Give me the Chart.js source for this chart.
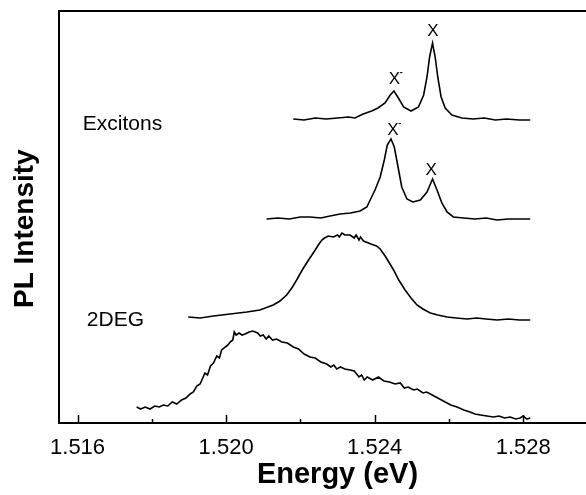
<!DOCTYPE html>
<html>
<head>
<meta charset="utf-8">
<script src="https://cdn.jsdelivr.net/npm/chart.js@4/dist/chart.umd.min.js"></script>
<style>
    html, body { margin: 0; padding: 0; background: #fff; overflow: hidden; }
    #plChart { display: block; }
</style>
</head>
<body>
<canvas id="plChart" width="640" height="495"></canvas>
<script>
// Energy (eV) and PL intensity (arb. units), top trace first
const excitonsTopE = [1.52181, 1.52210, 1.52240, 1.52270, 1.52300, 1.52330, 1.52347, 1.52369, 1.52392, 1.52409,
    1.52428, 1.52442, 1.52452, 1.52464, 1.52478, 1.52498, 1.52518, 1.52532, 1.52541, 1.52548,
    1.52556, 1.52563, 1.52570, 1.52579, 1.52590, 1.52608, 1.52635, 1.52665, 1.52695, 1.52725,
    1.52755, 1.52790, 1.52819];
const excitonsTopI = [304, 303, 305, 304, 305, 306, 305, 309, 312, 315,
    320, 328, 332, 325, 316, 312, 316, 328, 346, 366,
    380, 366, 346, 326, 315, 308, 305, 304, 305, 303,
    304, 303, 303];

const excitonsLowE = [1.52109, 1.52140, 1.52170, 1.52200, 1.52226, 1.52255, 1.52280, 1.52307, 1.52335, 1.52361,
    1.52379, 1.52388, 1.52401, 1.52415, 1.52426, 1.52434, 1.52444, 1.52453, 1.52461, 1.52473,
    1.52487, 1.52503, 1.52523, 1.52541, 1.52556, 1.52568, 1.52581, 1.52595, 1.52612, 1.52640,
    1.52670, 1.52700, 1.52730, 1.52760, 1.52790, 1.52819];
const excitonsLowI = [204, 205, 204, 206, 206, 205, 207, 209, 210, 212,
    216, 223, 233, 246, 263, 278, 284, 276, 260, 236,
    224, 221, 223, 231, 244, 233, 220, 211, 206, 205,
    204, 205, 203, 204, 204, 204];

const degTopE = [1.51898, 1.51930, 1.51966, 1.52011, 1.52056, 1.52091, 1.52127, 1.52145, 1.52163, 1.52177,
    1.52190, 1.52205, 1.52222, 1.52240, 1.52250, 1.52258, 1.52265, 1.52275, 1.52289, 1.52300,
    1.52305, 1.52312, 1.52320, 1.52334, 1.52345, 1.52350, 1.52358, 1.52362, 1.52370, 1.52390,
    1.52405, 1.52415, 1.52430, 1.52451, 1.52465, 1.52482, 1.52498, 1.52514, 1.52530, 1.52550,
    1.52570, 1.52595, 1.52620, 1.52649, 1.52675, 1.52700, 1.52730, 1.52760, 1.52790, 1.52819];
const degTopI = [106, 105, 107, 109, 111, 113, 118, 122, 128, 135,
    143, 153, 163, 173, 179, 183, 185, 187, 186, 188,
    186, 190, 188, 188, 185, 188, 183, 186, 182, 179,
    177, 174, 166, 153, 143, 133, 125, 118, 114, 110,
    108, 106, 105, 104, 105, 104, 103, 104, 103, 103];

const degLowE = [1.51759, 1.51770, 1.51782, 1.51795, 1.51808, 1.51820, 1.51831, 1.51843, 1.51855, 1.51867,
    1.51880, 1.51892, 1.51903, 1.51912, 1.51921, 1.51930, 1.51943, 1.51950, 1.51958, 1.51966,
    1.51975, 1.51982, 1.51988, 1.51998, 1.52005, 1.52011, 1.52018, 1.52022, 1.52027, 1.52035,
    1.52043, 1.52051, 1.52062, 1.52072, 1.52085, 1.52092, 1.52100, 1.52108, 1.52115, 1.52125,
    1.52136, 1.52150, 1.52165, 1.52181, 1.52195, 1.52210, 1.52226, 1.52240, 1.52255, 1.52271,
    1.52282, 1.52290, 1.52298, 1.52308, 1.52320, 1.52334, 1.52345, 1.52358, 1.52365, 1.52372,
    1.52380, 1.52395, 1.52410, 1.52425, 1.52440, 1.52455, 1.52469, 1.52480, 1.52490, 1.52505,
    1.52515, 1.52530, 1.52540, 1.52550, 1.52565, 1.52575, 1.52590, 1.52605, 1.52622, 1.52640,
    1.52657, 1.52670, 1.52685, 1.52702, 1.52720, 1.52735, 1.52750, 1.52765, 1.52780, 1.52792,
    1.52800, 1.52810, 1.52819];
const degLowI = [16, 14, 16, 14, 17, 16, 18, 17, 21, 19,
    23, 25, 29, 31, 37, 39, 50, 48, 57, 60,
    67, 65, 73, 76, 78, 81, 83, 91, 88, 90,
    88, 89, 91, 92, 90, 87, 88, 84, 87, 83,
    84, 81, 80, 76, 74, 69, 66, 65, 61, 59,
    56, 58, 54, 56, 54, 53, 52, 46, 48, 43,
    46, 43, 46, 42, 41, 39, 40, 35, 36, 33,
    34, 30, 31, 29, 26, 24, 21, 18, 16, 13,
    11, 9, 8, 7, 6, 7, 5, 6, 4, 5,
    7, 4, 5];

// axis range and tick marks (eV)
const xMin = 1.5155;
const xMax = 1.5305;
const tickStep = 0.002;
const labelStep = 0.004;

// peak markers: [text, energy, intensity, charged]
const peakLabels = [
    ['X', 1.52557, 392, false],
    ['X', 1.52453, 344, true],
    ['X', 1.52449, 293, true],
    ['X', 1.52552, 253, false]
];
// curve group names: [text, energy, intensity]
const groupLabels = [
    ['Excitons', 1.51614, 299],
    ['2DEG', 1.51625, 103]
];

const toPoints = (xs, ys) => xs.map((x, i) => ({ x: x, y: ys[i] }));

const fontFamily = '"Liberation Sans", Arial, Helvetica, sans-serif';

function lineSet(xs, ys) {
    return {
        data: toPoints(xs, ys),
        borderColor: '#000',
        borderWidth: 1.6,
        pointRadius: 0,
        tension: 0,
        fill: false
    };
}

// inward tick marks plus the text labels
const annotate = {
    id: 'annotate',
    afterDatasetsDraw(chart) {
        const ctx = chart.ctx;
        const x = chart.scales.x;
        const y = chart.scales.y;
        const area = chart.chartArea;

        ctx.save();
        ctx.strokeStyle = '#000';
        ctx.lineWidth = 1.5;
        x.ticks.forEach(t => {
            const px = Math.round(x.getPixelForValue(t.value)) + 0.5;
            if (px < area.left + 2 || px > area.right) return;
            const r = t.value / labelStep;
            const major = Math.abs(r - Math.round(r)) < 1e-6;
            ctx.beginPath();
            ctx.moveTo(px, area.bottom);
            ctx.lineTo(px, area.bottom - (major ? 8 : 4));
            ctx.stroke();
        });

        ctx.fillStyle = '#000';
        ctx.textBaseline = 'middle';
        ctx.textAlign = 'left';
        ctx.font = '21px ' + fontFamily;
        groupLabels.forEach(g => {
            ctx.fillText(g[0], x.getPixelForValue(g[1]), y.getPixelForValue(g[2]));
        });

        ctx.textAlign = 'center';
        peakLabels.forEach(p => {
            const px = x.getPixelForValue(p[1]);
            const py = y.getPixelForValue(p[2]);
            ctx.font = '17px ' + fontFamily;
            ctx.fillText(p[0], px, py);
            if (p[3]) {
                ctx.font = 'bold 9px ' + fontFamily;
                ctx.fillText('-', px + 7, py - 6);
            }
        });
        ctx.restore();
    }
};

new Chart(document.getElementById('plChart').getContext('2d'), {
    type: 'line',
    data: {
        datasets: [
            lineSet(excitonsTopE, excitonsTopI),
            lineSet(excitonsLowE, excitonsLowI),
            lineSet(degTopE, degTopI),
            lineSet(degLowE, degLowI)
        ]
    },
    options: {
        responsive: false,
        animation: false,
        devicePixelRatio: 1,
        layout: {
            padding: { left: 0, top: 0, right: 24, bottom: 0 }
        },
        plugins: {
            legend: { display: false },
            tooltip: { enabled: false }
        },
        scales: {
            x: {
                type: 'linear',
                position: 'bottom',
                min: xMin,
                max: xMax,
                grid: { display: false, drawTicks: false },
                border: { display: true, color: '#000', width: 2 },
                ticks: {
                    stepSize: tickStep,
                    includeBounds: false,
                    autoSkip: false,
                    maxRotation: 0,
                    padding: 12,
                    color: '#000',
                    font: { family: fontFamily, size: 22 },
                    callback: function (value) {
                        const r = value / labelStep;
                        return Math.abs(r - Math.round(r)) < 1e-6 ? value.toFixed(3) : '';
                    }
                },
                title: {
                    display: true,
                    text: 'Energy (eV)',
                    color: '#000',
                    font: { family: fontFamily, size: 29, weight: 'bold' },
                    padding: { top: 0, bottom: 3 }
                },
                afterFit: function (scale) { scale.height = 72; }
            },
            xTop: {
                type: 'linear',
                position: 'top',
                display: true,
                min: xMin,
                max: xMax,
                grid: { display: false, drawTicks: false },
                border: { display: true, color: '#000', width: 2 },
                ticks: { display: false },
                afterFit: function (scale) { scale.height = 11; }
            },
            y: {
                type: 'linear',
                min: 0,
                max: 412,
                grid: { display: false, drawTicks: false },
                border: { display: true, color: '#000', width: 2 },
                ticks: { display: false },
                title: {
                    display: true,
                    text: 'PL Intensity   ',
                    color: '#000',
                    font: { family: fontFamily, size: 28, weight: 'bold' },
                    padding: { top: 8, bottom: 0 }
                },
                afterFit: function (scale) { scale.width = 59; }
            }
        }
    },
    plugins: [annotate]
});
</script>
</body>
</html>
